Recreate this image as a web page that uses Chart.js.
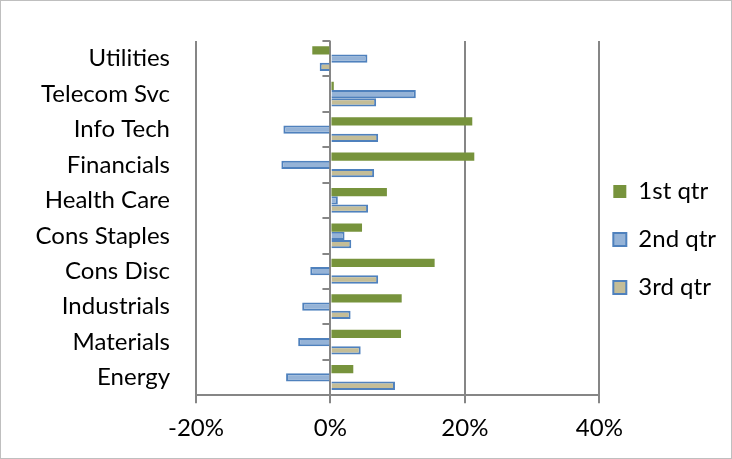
<!DOCTYPE html>
<html>
<head>
<meta charset="utf-8">
<script src="https://cdn.jsdelivr.net/npm/chart.js@4.4.1/dist/chart.umd.min.js"></script>
<style>
    html, body { margin: 0; padding: 0; background: #fff; }
    #wrap { width: 732px; height: 459px; box-sizing: border-box; border: 1px solid #bfbfbf; }
</style>
</head>
<body>
<div id="wrap"><canvas id="myChart" width="730" height="457"></canvas></div>
<script>
// sectors, top to bottom
const sectors = ['Utilities', 'Telecom Svc', 'Info Tech', 'Financials', 'Health Care',
    'Cons Staples', 'Cons Disc', 'Industrials', 'Materials', 'Energy'];

// quarterly returns in %
const qtr1 = [-2.7, 0.5, 21.1, 21.4, 8.4, 4.7, 15.5, 10.6, 10.5, 3.4];
const qtr2 = [5.5, 12.7, -7.0, -7.3, 1.1, 2.1, -3.0, -4.2, -4.8, -6.6];
const qtr3 = [-1.6, 6.8, 7.1, 6.5, 5.6, 3.1, 7.1, 3.0, 4.5, 9.6];

const xTicks = [-20, 0, 20, 40];

const axisGray = '#868686';
const labelFont = { family: 'Lato', size: 24 };

// category tick marks on the zero line, like the excel category axis
const zeroAxisTicks = {
    id: 'zeroAxisTicks',
    afterLayout(chart) {
        // pull the legend a bit closer to the plot and up, excel style
        chart.legend.left -= 10;
        chart.legend.right -= 10;
        chart.legend.top -= 8;
        chart.legend.bottom -= 8;
    },
    afterDraw(chart) {
        var ctx = chart.ctx;
        var x = chart.scales.x.getPixelForValue(0);
        var y = chart.scales.y;
        var step = (y.bottom - y.top) / sectors.length;
        ctx.save();
        ctx.strokeStyle = axisGray;
        ctx.lineWidth = 2;
        for (var i = 0; i <= sectors.length; i++) {
            var py = Math.round(y.top + i * step);
            ctx.beginPath();
            ctx.moveTo(x - 8, py);
            ctx.lineTo(x, py);
            ctx.stroke();
        }
        ctx.restore();
    }
};

var ctx = document.getElementById('myChart').getContext('2d');

new Chart(ctx, {
    type: 'bar',
    data: {
        labels: sectors,
        datasets: [{
            label: '1st qtr',
            data: qtr1,
            backgroundColor: '#77933C',
            borderWidth: 0
        },
        {
            label: '2nd qtr',
            data: qtr2,
            backgroundColor: '#95B3D7',
            borderColor: '#4F81BD',
            borderWidth: 2
        },
        {
            label: '3rd qtr',
            data: qtr3,
            backgroundColor: '#C4BD97',
            borderColor: '#4F81BD',
            borderWidth: 2
        }]
    },
    options: {
        indexAxis: 'y',
        responsive: false,
        animation: false,
        categoryPercentage: 0.7,
        barPercentage: 1,
        layout: {
            padding: { top: 40, right: -5, bottom: 4, left: 0 }
        },
        scales: {
            x: {
                min: -20,
                max: 40,
                afterBuildTicks: function (scale) {
                    scale.ticks = xTicks.map(v => ({ value: v }));
                },
                grid: {
                    color: axisGray,
                    lineWidth: 2,
                    tickLength: 8
                },
                border: { color: axisGray, width: 2 },
                ticks: {
                    color: '#000',
                    padding: 11,
                    font: labelFont,
                    callback: function (value) {
                        return value + '%';
                    }
                }
            },
            y: {
                grid: { display: false },
                border: { display: false },
                afterFit: function (scale) {
                    scale.width = 195;
                },
                ticks: {
                    color: '#000',
                    padding: 18,
                    font: labelFont
                }
            }
        },
        plugins: {
            legend: {
                position: 'right',
                labels: {
                    color: '#000',
                    boxWidth: 13,
                    boxHeight: 13,
                    padding: 24,
                    font: labelFont
                }
            },
            tooltip: { enabled: false }
        }
    },
    plugins: [zeroAxisTicks]
});
</script>
</body>
</html>
